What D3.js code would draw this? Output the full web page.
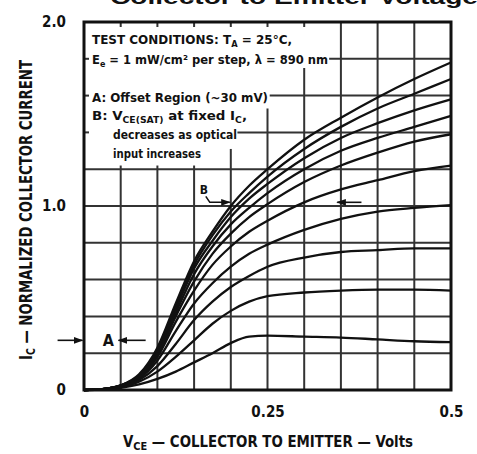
<!DOCTYPE html>
<html>
<head>
<meta charset="utf-8">
<script src="https://cdn.jsdelivr.net/npm/d3@7"></script>
<style>
	body { margin:0; background:#fff; }
	svg { display:block; }
	text { font-family:"Liberation Sans Narrow","DejaVu Sans Condensed","Arial Narrow",sans-serif; font-weight:bold; fill:#111; }
</style>
</head>
<body>
<div id="chart"></div>
<script>
// collector-emitter voltage (V) where each curve is sampled
const voltages=[0,0.025,0.05,0.075,0.1,0.125,0.15,0.175,0.2,0.225,0.25,0.3,0.35,0.4,0.45,0.5];

// normalized collector current, one array per irradiance step (top to bottom)
const curve1=[0,0.005,0.025,0.085,0.23,0.47,0.70,0.86,1.00,1.11,1.20,1.36,1.48,1.59,1.69,1.78];
const curve2=[0,0.005,0.025,0.080,0.22,0.45,0.68,0.84,0.97,1.07,1.16,1.31,1.43,1.53,1.61,1.69];
const curve3=[0,0.005,0.024,0.078,0.21,0.44,0.66,0.81,0.94,1.04,1.12,1.26,1.37,1.45,1.52,1.58];
const curve4=[0,0.005,0.024,0.075,0.20,0.42,0.63,0.78,0.90,0.99,1.07,1.20,1.30,1.37,1.43,1.49];
const curve5=[0,0.005,0.023,0.072,0.19,0.40,0.59,0.74,0.85,0.94,1.01,1.13,1.22,1.29,1.35,1.39];
const curve6=[0,0.005,0.022,0.068,0.18,0.37,0.54,0.68,0.78,0.86,0.92,1.02,1.09,1.14,1.19,1.22];
const curve7=[0,0.005,0.021,0.062,0.16,0.32,0.47,0.58,0.67,0.74,0.79,0.87,0.93,0.97,0.99,1.005];
const curve8=[0,0.004,0.019,0.055,0.13,0.25,0.38,0.48,0.56,0.62,0.67,0.72,0.75,0.76,0.77,0.77];
const curve9=[0,0.004,0.016,0.045,0.10,0.18,0.27,0.36,0.43,0.48,0.51,0.53,0.54,0.545,0.545,0.54];
const curve10=[0,0.003,0.012,0.030,0.06,0.10,0.15,0.20,0.255,0.29,0.295,0.29,0.285,0.275,0.265,0.26];

const curves=[curve1,curve2,curve3,curve4,curve5,curve6,curve7,curve8,curve9,curve10];

const xTickValues=[0,0.25,0.5];
const xTickLabels=["0","0.25","0.5"];
const yTickValues=[0,1,2];
const yTickLabels=["0","1.0","2.0"];

// offset region level (A) and saturation marker (B)
const offsetLevel=0.27;
const satPoint=[0.2,1.02];

let svg=d3.select("#chart").append("svg")
		.attr("width",477)
		.attr("height",454);

let x=d3.scaleLinear().domain([0,0.5]).range([84,451]),
	y=d3.scaleLinear().domain([0,2]).range([390,22]);

svg.append("defs").append("marker")
		.attr("id","head")
		.attr("viewBox","0 0 10 10")
		.attr("refX",9)
		.attr("refY",5)
		.attr("markerWidth",6)
		.attr("markerHeight",6)
		.attr("orient","auto-start-reverse")
	.append("path")
		.attr("d","M0,1.5L10,5L0,8.5Z")
		.attr("fill","#111");

// title, cut off by the top of the picture
svg.append("text")
		.attr("x",110)
		.attr("y",4)
		.attr("font-size",21)
		.attr("textLength",368)
		.attr("lengthAdjust","spacingAndGlyphs")
		.style("font-family","'Liberation Sans',Arial,sans-serif")
		.text("Collector to Emitter Voltage");

// grid, broken where the notes sit
let vStart={5:1.22,10:1.22,15:1.22,20:1.31,25:1.53,30:1.75},
	hStart={140:0.209,160:0.253,180:0.334};

let grid=svg.append("g")
		.attr("stroke","#333")
		.attr("stroke-width",2);

x.ticks(10).filter(v=>v>0 && v<0.5).forEach(v=>{
	let top=vStart[Math.round(v*100)]||2;
	grid.append("line")
			.attr("x1",x(v)).attr("x2",x(v))
			.attr("y1",y(top)).attr("y2",y(0));
	if(top<2) {
		grid.append("line")
				.attr("x1",x(v)).attr("x2",x(v))
				.attr("y1",y(2)).attr("y2",y(2)+5);
	}
});

y.ticks(10).filter(v=>v>0 && v<2).forEach(v=>{
	let start=hStart[Math.round(v*100)]||0;
	grid.append("line")
			.attr("x1",x(start)).attr("x2",x(0.5))
			.attr("y1",y(v)).attr("y2",y(v));
	if(start>0) {
		grid.append("line")
				.attr("x1",x(0)).attr("x2",x(0)+5)
				.attr("y1",y(v)).attr("y2",y(v));
	}
});

// curves
let line=d3.line()
		.x((d,i)=>x(voltages[i]))
		.y(d=>y(d))
		.curve(d3.curveMonotoneX);

svg.append("g").selectAll("path")
		.data(curves)
		.join("path")
		.attr("d",line)
		.attr("fill","none")
		.attr("stroke","#111")
		.attr("stroke-width",2.3);

// frame
svg.append("rect")
		.attr("x",x(0))
		.attr("y",y(2))
		.attr("width",x(0.5)-x(0))
		.attr("height",y(0)-y(2))
		.attr("fill","none")
		.attr("stroke","#111")
		.attr("stroke-width",3);

// axes
let xAxis=svg.append("g")
		.attr("transform","translate(0,"+y(0)+")")
		.call(d3.axisBottom(x).tickValues(xTickValues).tickSize(0).tickPadding(16)
			.tickFormat((d,i)=>xTickLabels[i]));

let yAxis=svg.append("g")
		.attr("transform","translate("+x(0)+",0)")
		.call(d3.axisLeft(y).tickValues(yTickValues).tickSize(0).tickPadding(18)
			.tickFormat((d,i)=>yTickLabels[i]));

[xAxis,yAxis].forEach(a=>{
	a.select(".domain").remove();
	a.selectAll("text")
			.attr("font-size",15)
			.attr("fill","#111")
			.style("font-family","'Liberation Sans Narrow','DejaVu Sans Condensed',sans-serif");
});

// axis titles
let xTitle=svg.append("text")
		.attr("x",268)
		.attr("y",447)
		.attr("text-anchor","middle")
		.attr("font-size",15)
		.attr("textLength",290)
		.attr("lengthAdjust","spacingAndGlyphs");
xTitle.append("tspan").text("V");
xTitle.append("tspan").attr("font-size",11).attr("dy",3).text("CE");
xTitle.append("tspan").attr("dy",-3).text(" \u2014 COLLECTOR TO EMITTER \u2014 Volts");

let yTitle=svg.append("text")
		.attr("transform","translate(32,210) rotate(-90)")
		.attr("text-anchor","middle")
		.attr("font-size",17)
		.attr("textLength",300)
		.attr("lengthAdjust","spacingAndGlyphs");
yTitle.append("tspan").text("I");
yTitle.append("tspan").attr("font-size",12).attr("dy",3).text("C");
yTitle.append("tspan").attr("dy",-3).text(" \u2014 NORMALIZED COLLECTOR CURRENT");

// notes
function note(px,py,parts,len) {
	let t=svg.append("text")
			.attr("x",px)
			.attr("y",py)
			.attr("font-size",13)
			.attr("textLength",len)
			.attr("lengthAdjust","spacingAndGlyphs");
	let shift=0;
	parts.forEach(p=>{
		let sub=Array.isArray(p);
		let s=t.append("tspan").text(sub ? p[0] : p);
		if(sub) {
			s.attr("font-size",9).attr("dy",3-shift);
			shift=3;
		} else if(shift) {
			s.attr("dy",-shift);
			shift=0;
		}
	});
}

note(92,44,["TEST CONDITIONS: T",["A"]," = 25\u00b0C,"],200);
note(92,64,["E",["e"]," = 1 mW/cm\u00b2 per step, \u03bb = 890 nm"],236);
note(92,102,["A: Offset Region (~30 mV)"],176);
note(92,120,["B: V",["CE(SAT)"]," at fixed I",["C"],","],155);
note(113,139,["decreases as optical"],124);
note(113,158,["input increases"],88);

// A markers
let ann=svg.append("g")
		.attr("stroke","#111")
		.attr("stroke-width",1.6)
		.attr("fill","none");

ann.append("line")
		.attr("x1",x(-0.036)).attr("x2",x(-0.002))
		.attr("y1",y(offsetLevel)).attr("y2",y(offsetLevel))
		.attr("marker-end","url(#head)");

ann.append("line")
		.attr("x1",x(0.084)).attr("x2",x(0.047))
		.attr("y1",y(offsetLevel)).attr("y2",y(offsetLevel))
		.attr("marker-end","url(#head)");

svg.append("text")
		.attr("x",x(0.033))
		.attr("y",y(offsetLevel)+6)
		.attr("text-anchor","middle")
		.attr("font-size",16)
		.text("A");

// B markers
ann.append("path")
		.attr("d","M"+(x(satPoint[0])-25)+","+(y(satPoint[1])-6)
			+"L"+(x(satPoint[0])-21)+","+y(satPoint[1])
			+"L"+(x(satPoint[0])-1)+","+y(satPoint[1]))
		.attr("marker-end","url(#head)");

ann.append("line")
		.attr("x1",x(0.378)).attr("x2",x(0.345))
		.attr("y1",y(satPoint[1])).attr("y2",y(satPoint[1]))
		.attr("marker-end","url(#head)");

svg.append("text")
		.attr("x",x(satPoint[0])-27)
		.attr("y",y(satPoint[1])-8)
		.attr("text-anchor","middle")
		.attr("font-size",12)
		.text("B");
</script>
</body>
</html>
